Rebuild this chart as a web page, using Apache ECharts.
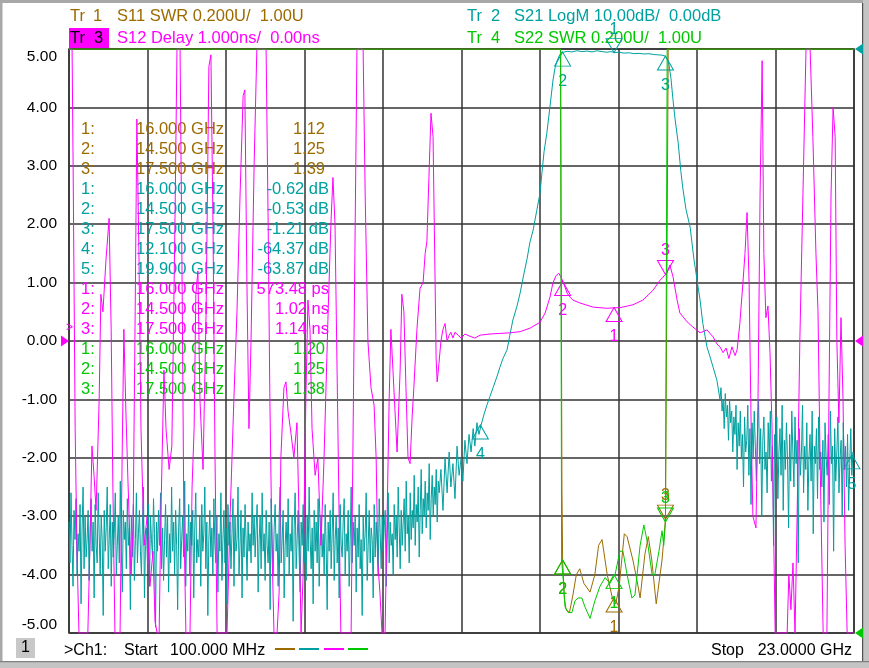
<!DOCTYPE html>
<html><head><meta charset="utf-8">
<script src="https://cdn.jsdelivr.net/npm/echarts@6/dist/echarts.min.js"></script>
<style>html,body{margin:0;padding:0;background:#fff}#c{width:869px;height:668px}</style>
</head><body><div id="c"></div><script>
const FONT = '"Liberation Sans", Arial, sans-serif';
const C_S11 = '#9c6b00', C_S21 = '#00a0a0', C_S12 = '#ff00ff', C_S22 = '#00c800';

// Sweep (GHz)
const sweepStartGHz = 0.1, sweepStopGHz = 23.0;

// Tr2 S21 LogM (dB): noise floor below the passband, sampled uniformly (two runs)
const s21LowAStartGHz = 0.1, s21LowAStopGHz = 5.5;
const s21LowANoiseDb = [
-81,-88,-76,-85,-92,-79,-84,-77,-90,-83,
-86,-78,-95,-82,-75,-89,-80,-87,-84,-79,
-91,-83,-77,-86,-81,-94,-78,-85,-88,-76,
-83,-90,-80,-84,-97,-79,-86,-82,-75,-89,
-84,-78,-92,-81,-87,-83,-76,-90,-85,-80,
-88,-74,-86,-93,-79,-84,-81,-89,-77,-85,
-82,-96,-80,-87,-78,-91,-84,-76,-88,-83,
-79,-86,-90,-81,-75,-94,-85,-82,-88,-78,
-92,-80,-84,-87,-77,-83,-99,-81,-86,-79,
-85,-76,-89,-82,-91,-84,-78,-87,-80,-93,
-83,-88,-75,-86,-81,-90,-79,-85,-96,-82,
-77,-89,-84,-80,-87,-74,-92,-83,-86,-78,
-90,-81,-85,-79,-94,-82,-76,-88,-84,-87,
-80,-92,-78,-86,-83,-75,-89,-81,-97,-84,
-79,-87,-82,-90,-77,-85,-88,-80,-93,-83,
-86,-76,-91,-84,-79,-88,-82,-95,-78,-85,
-81,-89,-83,-77,-92,-80,-86,-84,-75,-90,
-85,-79,-94,-82,-87,-78,-84,-91,-81,-86,
-83,-88,-76,-85,-80
];
const s21LowBStartGHz = 5.53, s21LowBStopGHz = 10.9;
const s21LowBNoiseDb = [
-87,-82,-78,-93,-84,-80,-89,-76,-86,-83,
-91,-79,-85,-88,-81,-96,-77,-84,-90,-82,
-78,-86,-83,-92,-80,-75,-88,-84,-79,-94,
-85,-81,-87,-77,-90,-83,-86,-80,-98,-82,
-76,-89,-84,-79,-87,-93,-81,-85,-78,-88,
-83,-91,-80,-86,-75,-84,-89,-82,-95,-79,
-86,-81,-88,-77,-92,-84,-80,-87,-83,-90,
-78,-85,-96,-81,-86,-79,-89,-83,-76,-91,
-84,-80,-88,-82,-94,-78,-85,-87,-81,-77,
-90,-83,-86,-79,-92,-84,-75,-88,-81,-85,
-80,-93,-82,-87,-78,-89,-84,-97,-80,-86,
-83,-76,-91,-85,-79,-88,-82,-84,-94,-78,
-87,-81,-85,-90,-77,-83,-89,-80,-86,-82,
-79,-92,-84,-76,-88,-81,-85,-83,-90,-78,
-84,-80,-87,-75,-82,-89,-79,-85,-81,-77,
-86,-74,-83,-80,-88,-76,-84,-79,-82,-73,
-85,-78,-81,-75,-87,-79,-72,-83,-77,-80,
-74,-82,-76,-79,-71,-84,-77,-73,-80,-75,
-78,-72,-81,-74,-76
];
// Tr2 S21: skirts and passband [GHz, dB]
const s21EdgeDb = [
[10.95,-72],[11.01,-79],[11.07,-70],[11.13,-76],[11.19,-69],[11.24,-75],[11.30,-71],[11.36,-77],
[11.42,-68],[11.48,-73],[11.54,-70],[11.59,-74],[11.65,-67],[11.71,-71],[11.77,-66],[11.83,-69],
[11.89,-65],[11.94,-68],[12.00,-64],[12.06,-66],[12.12,-64.4],[12.21,-62.5],[12.29,-61],[12.38,-59.5],
[12.47,-58],[12.59,-56],[12.67,-54.5],[12.76,-53],[12.88,-51.5],[12.96,-49],[13.05,-46.4],[13.17,-44],
[13.26,-41.8],[13.37,-38.5],[13.46,-36],[13.55,-33],[13.64,-31],[13.75,-27.5],[13.84,-24.7],[13.90,-21],
[13.96,-17.5],[14.04,-14.4],[14.13,-9.9],[14.22,-5.3],[14.28,-3.2],[14.34,-2.0],[14.42,-0.9],[14.48,-0.55],
[14.54,-0.53],[14.63,-0.4],[14.77,-0.5],[14.92,-0.3],[15.07,-0.45],[15.21,-0.35],[15.36,-0.5],[15.50,-0.3],
[15.65,-0.45],[15.79,-0.55],[15.91,-0.45],[16.03,-0.62],[16.14,-0.55],[16.29,-0.7],[16.44,-0.65],[16.58,-0.8],
[16.73,-0.75],[16.87,-0.85],[17.02,-0.8],[17.17,-0.95],[17.28,-1.0],[17.40,-1.05],[17.49,-1.21],[17.54,-1.6],
[17.60,-2.6],[17.66,-5],[17.72,-8.7],[17.78,-12],[17.87,-16],[17.95,-21],[18.01,-24],[18.10,-27.5],
[18.22,-30.5],[18.33,-36],[18.42,-39.5],[18.51,-43],[18.59,-47],[18.71,-51],[18.80,-52.7],[18.89,-54.5],
[19.00,-56.7],[19.09,-60]
];
// Tr2 S21: noise floor above the passband, sampled uniformly
const s21HighStartGHz = 19.12, s21HighStopGHz = 23.0;
const s21HighNoiseDb = [
-58,-62,-60,-65,-59,-63,-61,-67,-60,-64,
-62,-69,-63,-66,-61,-72,-64,-68,-62,-70,
-66,-75,-63,-69,-67,-61,-73,-65,-78,-64,
-70,-62,-68,-74,-66,-60,-71,-65,-80,-67,
-63,-72,-69,-76,-64,-70,-62,-74,-68,-85,
-66,-71,-63,-77,-69,-65,-73,-61,-79,-67,
-72,-64,-70,-82,-66,-74,-62,-69,-75,-63,
-71,-67,-88,-65,-73,-69,-61,-76,-68,-72,
-64,-79,-70,-66,-74,-62,-83,-68,-71,-65,
-77,-63,-72,-69,-75,-67,-81,-64,-70,-73,
-66,-78,-62,-71,-68,-86,-65,-74,-69,-63,
-76,-70,-67,-80,-64,-72,-68,-75,-66,-79,
-71,-65,-73,-69,-70
];

// Tr3 S12 group delay [GHz, ns] (screen-limited at +/-5 ns)
const s12DelayNs = [
[0.10,5.0],[0.19,5.0],[0.22,3.0],[0.28,-1.5],[0.33,-3.5],[0.39,-5.0],[0.65,-5.0],[0.71,-3.5],[0.77,-1.8],[0.83,-2.3],
[0.89,-2.9],[0.98,-1.0],[1.03,0.8],[1.09,0.5],[1.18,1.4],[1.27,2.1],[1.33,0.2],[1.38,-2.5],[1.44,-5.0],[1.59,-5.0],
[1.65,-2.0],[1.70,0.2],[1.76,-1.2],[1.82,-2.4],[1.91,-4.0],[1.97,-3.2],[2.03,0.5],[2.08,3.8],[2.14,1.5],[2.20,-1.5],
[2.29,-3.5],[2.38,-3.0],[2.46,-4.2],[2.55,-3.6],[2.61,-4.8],[2.67,-5.0],[2.73,-5.0],[2.78,-3.0],[2.87,-0.5],[2.93,-1.5],
[3.02,-2.2],[3.10,-1.8],[3.19,2.0],[3.25,5.0],[3.34,5.0],[3.40,1.0],[3.45,-3.0],[3.51,-5.0],[3.63,-5.0],[3.69,-2.5],
[3.75,-1.5],[3.80,0.8],[3.86,1.2],[3.92,-1.0],[4.01,-2.2],[4.10,0.5],[4.18,4.7],[4.24,4.9],[4.30,2.0],[4.36,-2.0],
[4.42,-5.0],[4.71,-5.0],[4.80,-3.0],[4.91,-1.0],[5.00,0.5],[5.09,2.5],[5.18,4.2],[5.23,4.3],[5.29,1.0],[5.35,-1.5],
[5.41,0.0],[5.50,3.0],[5.58,5.0],[5.85,5.0],[5.91,2.0],[5.96,-1.0],[6.02,-3.5],[6.08,-5.0],[6.17,-5.0],[6.23,-4.3],
[6.28,-2.0],[6.37,-0.8],[6.43,-0.7],[6.49,-1.2],[6.58,-1.6],[6.66,-2.0],[6.75,-1.4],[6.81,-3.0],[6.87,-5.0],[6.93,-4.0],
[7.01,-1.0],[7.07,0.7],[7.13,0.2],[7.19,-1.5],[7.28,-2.3],[7.36,-2.0],[7.45,-3.5],[7.54,-2.0],[7.66,0.5],[7.74,2.0],
[7.80,2.8],[7.86,2.0],[7.92,-0.5],[7.98,-3.0],[8.03,-5.0],[8.33,-5.0],[8.38,-2.0],[8.44,1.5],[8.50,5.0],[8.68,5.0],
[8.74,2.5],[8.82,0.0],[8.91,-0.8],[9.00,-1.1],[9.06,-2.0],[9.11,-3.8],[9.17,-4.3],[9.23,-5.0],[9.32,-5.0],[9.38,-3.0],
[9.44,-1.0],[9.49,0.2],[9.55,-0.5],[9.61,-1.2],[9.67,-1.9],[9.76,-0.5],[9.81,0.8],[9.87,0.5],[9.93,-0.8],[9.99,-2.0],
[10.05,-2.1],[10.11,-1.3],[10.16,-0.8],[10.25,0.2],[10.34,0.9],[10.43,1.0],[10.49,1.5],[10.54,1.7],[10.60,2.8],[10.66,3.9],
[10.72,3.5],[10.78,1.0],[10.81,-0.3],[10.84,-0.7],[10.89,-0.4],[10.95,0.0],[11.01,0.2],[11.07,0.3],[11.13,0.0],[11.19,0.1],
[11.24,0.15],[11.30,0.05],[11.36,0.15],[11.45,0.1],[11.54,0.05],[11.65,0.12],[11.80,0.08],[11.94,0.05],[12.09,0.1],[12.38,0.12],
[12.67,0.13],[12.96,0.14],[13.26,0.16],[13.55,0.22],[13.84,0.32],[13.99,0.48],[14.13,0.75],[14.22,1.0],[14.31,1.12],[14.39,1.16],
[14.48,1.06],[14.57,0.92],[14.63,0.82],[14.72,0.75],[14.80,0.7],[15.01,0.65],[15.39,0.58],[15.79,0.56],[16.06,0.57],[16.17,0.57],
[16.55,0.62],[16.84,0.7],[17.14,0.87],[17.34,1.04],[17.54,1.16],[17.63,1.3],[17.72,1.1],[17.84,0.7],[17.92,0.48],[18.13,0.33],
[18.30,0.24],[18.51,0.14],[18.71,0.19],[18.89,0.07],[19.00,-0.05],[19.09,-0.1],[19.18,-0.2],[19.27,-0.12],[19.35,-0.3],[19.44,-0.1],
[19.53,-0.25],[19.59,-0.15],[19.67,0.3],[19.76,1.0],[19.82,1.5],[19.88,2.2],[19.94,1.0],[20.00,-1.5],[20.05,-3.0],[20.14,-3.2],
[20.20,-1.0],[20.26,2.5],[20.32,4.8],[20.37,1.5],[20.43,0.4],[20.49,0.6],[20.55,-0.2],[20.61,-1.5],[20.70,-5.0],[21.05,-5.0],
[21.10,-4.0],[21.16,-4.6],[21.22,-3.8],[21.28,-5.0],[21.34,-3.0],[21.42,0.0],[21.51,2.5],[21.60,5.0],[21.72,5.0],[21.80,3.5],
[21.89,1.5],[21.95,0.5],[22.01,-2.0],[22.10,-5.0],[22.21,-5.0],[22.27,-1.0],[22.33,2.5],[22.39,4.0],[22.45,3.5],[22.50,0.0],
[22.56,-1.4],[22.62,0.4],[22.68,-1.0],[22.74,-3.5],[22.80,-5.0],[23.00,-5.0]
];

// Tr1 S11 SWR [GHz, U] (screen-limited at 3.0 U)
const s11Swr = [
[0.10,3.0],[14.44,3.0],[14.48,1.5],[14.50,1.25],[14.55,1.12],[14.60,1.08],[14.70,1.07],[14.80,1.13],[14.90,1.2],[15.00,1.22],
[15.12,1.17],[15.30,1.14],[15.44,1.2],[15.55,1.3],[15.65,1.32],[15.80,1.2],[15.95,1.12],[16.05,1.1],[16.15,1.16],[16.30,1.34],
[16.38,1.33],[16.55,1.25],[16.67,1.18],[16.76,1.12],[16.90,1.27],[17.00,1.33],[17.10,1.25],[17.23,1.1],[17.40,1.25],[17.50,1.39],
[17.58,3.0],[23.00,3.0]
];
// Tr4 S22 SWR [GHz, U]
const s22Swr = [
[0.10,3.0],[14.44,3.0],[14.47,1.25],[14.52,1.18],[14.57,1.09],[14.66,1.07],[14.77,1.07],[14.86,1.11],[14.95,1.12],[15.06,1.12],
[15.15,1.09],[15.30,1.05],[15.44,1.11],[15.59,1.16],[15.74,1.19],[15.88,1.17],[16.03,1.20],[16.17,1.28],[16.26,1.28],[16.38,1.2],
[16.52,1.12],[16.61,1.13],[16.76,1.3],[16.87,1.37],[16.99,1.3],[17.11,1.2],[17.19,1.2],[17.31,1.28],[17.40,1.35],[17.45,1.3],
[17.50,1.38],[17.55,3.0],[23.00,3.0]
];

// Markers
const markerFreqGHz = [16.0, 14.5, 17.5];
const s21MarkerFreqGHz = [16.0, 14.5, 17.5, 12.1, 19.9];
const s11MarkerSwr = [1.12, 1.25, 1.39];
const s21MarkerDb = [-0.62, -0.53, -1.21, -64.37, -63.87];
const s12MarkerNs = [0.57348, 1.02, 1.14];
const s22MarkerSwr = [1.20, 1.25, 1.38];
const s21Marker5Shown = [22.94, -69.5];

// Axis scales: [min, max] per trace format
const delayAxis = [-5, 5], dbAxis = [-100, 0], swrAxis = [1.0, 3.0];

function uniformRun(start, stop, vals) {
  const n = vals.length, step = (stop - start) / (n - 1);
  return vals.map((v, i) => [start + i * step, v]);
}
const s21Data = uniformRun(s21LowAStartGHz, s21LowAStopGHz, s21LowANoiseDb)
  .concat(uniformRun(s21LowBStartGHz, s21LowBStopGHz, s21LowBNoiseDb))
  .concat(s21EdgeDb)
  .concat(uniformRun(s21HighStartGHz, s21HighStopGHz, s21HighNoiseDb));

function mk(coord, n, color, down) {
  return {
    coord: coord, symbol: 'triangle', symbolSize: [16, 14],
    symbolRotate: down ? 180 : 0,
    symbolOffset: [0, down ? -7 : 7],
    itemStyle: { color: 'rgba(0,0,0,0)', borderColor: color, borderWidth: 1 },
    label: { show: true, formatter: String(n), position: down ? 'top' : 'bottom', distance: down ? 1 : 7,
             color: color, fontSize: 16, fontFamily: FONT }
  };
}
function refMark(coord, color, side) {
  return {
    coord: coord, symbol: 'triangle', symbolSize: [11, 8],
    symbolRotate: side === 'right' ? 90 : -90,
    symbolOffset: [side === 'right' ? 5 : -4, 0],
    itemStyle: { color: color, borderWidth: 0 }, label: { show: false }
  };
}

const s11Marks = markerFreqGHz.map((f, i) => mk([f, s11MarkerSwr[i]], i + 1, C_S11, i === 2));
const s22Marks = markerFreqGHz.map((f, i) => mk([f, s22MarkerSwr[i]], i + 1, C_S22, i === 2));
const s12Marks = markerFreqGHz.map((f, i) => mk([f, s12MarkerNs[i]], i + 1, C_S12, i === 2));
const s21Marks = s21MarkerFreqGHz.map((f, i) => mk(i === 4 ? s21Marker5Shown : [f, s21MarkerDb[i]], i + 1, C_S21, i === 0));

function lineSeries(name, data, color, yIdx, marks, z) {
  return {
    name: name, type: 'line', data: data, yAxisIndex: yIdx, showSymbol: false, symbol: 'none',
    lineStyle: { color: color, width: 1 }, itemStyle: { color: color }, z: z,
    animation: false, clip: true,
    markPoint: { data: marks, animation: false, silent: true }
  };
}

// Marker table text
const FT = '16.5px ' + FONT;
function fmtDelay(v) { return Math.abs(v) < 1 ? (v * 1000).toFixed(2) + ' ps' : v.toFixed(2) + ' ns'; }
const rows = [];
markerFreqGHz.forEach((f, i) => rows.push([i + 1, f, s11MarkerSwr[i].toFixed(2), C_S11, false]));
s21MarkerFreqGHz.forEach((f, i) => rows.push([i + 1, f, s21MarkerDb[i].toFixed(2) + ' dB', C_S21, true]));
markerFreqGHz.forEach((f, i) => rows.push([i + 1, f, fmtDelay(s12MarkerNs[i]), C_S12, true]));
markerFreqGHz.forEach((f, i) => rows.push([i + 1, f, s22MarkerSwr[i].toFixed(2), C_S22, false]));

const g = [];
function txt(x, y, s, fill, align, font, z) {
  g.push({ type: 'text', x: x, y: y, z: z || 1, silent: true,
    style: { text: s, fill: fill, font: font || FT, align: align || 'left', verticalAlign: 'middle' } });
}
rows.forEach((r, k) => {
  const y = 129 + 20 * k;
  txt(81, y, r[0] + ':', r[3]);
  txt(136, y, r[1].toFixed(3) + ' GHz', r[3]);
  txt(r[4] ? 329 : 325, y, r[2], r[3], 'right');
});
txt(66, 328, '>', C_S12, 'left', '12px ' + FONT);

// Window frame
g.push({ type: 'rect', shape: { x: 0, y: 0, width: 869, height: 3 }, style: { fill: '#a8a8a8' }, z: 0, silent: true });
g.push({ type: 'rect', shape: { x: 0, y: 0, width: 2.5, height: 668 }, style: { fill: '#a8a8a8' }, z: 0, silent: true });
g.push({ type: 'rect', shape: { x: 863, y: 0, width: 6, height: 668 }, style: { fill: '#c4c4c4' }, z: 0, silent: true });
g.push({ type: 'rect', shape: { x: 862, y: 3, width: 1.2, height: 659 }, style: { fill: '#505050' }, z: 0, silent: true });
g.push({ type: 'rect', shape: { x: 0, y: 662, width: 869, height: 6 }, style: { fill: '#c4c4c4' }, z: 0, silent: true });
g.push({ type: 'rect', shape: { x: 0, y: 661, width: 869, height: 1.2 }, style: { fill: '#808080' }, z: 0, silent: true });

// Header
const FH = '16.5px ' + FONT;
txt(70, 16, 'Tr', C_S11, 'left', FH); txt(93, 16, '1', C_S11, 'left', FH);
txt(117, 16, 'S11 SWR 0.200U/  1.00U', C_S11, 'left', FH);
g.push({ type: 'rect', shape: { x: 69, y: 28, width: 40, height: 20 }, style: { fill: C_S12 }, z: 0, silent: true });
txt(70, 38, 'Tr', '#000', 'left', FH); txt(94, 38, '3', '#000', 'left', FH);
txt(117, 38, 'S12 Delay 1.000ns/  0.00ns', C_S12, 'left', FH);
txt(467, 16, 'Tr', C_S21, 'left', FH); txt(491, 16, '2', C_S21, 'left', FH);
txt(514, 16, 'S21 LogM 10.00dB/  0.00dB', C_S21, 'left', FH);
txt(467, 38, 'Tr', C_S22, 'left', FH); txt(491, 38, '4', C_S22, 'left', FH);
txt(514, 38, 'S22 SWR 0.200U/  1.00U', C_S22, 'left', FH);

// Footer
const FF = '16px ' + FONT;
g.push({ type: 'rect', shape: { x: 16, y: 638, width: 19, height: 20 }, style: { fill: '#c8c8c8' }, z: 0, silent: true });
txt(25.5, 648, '1', '#000', 'center', FF);
txt(64, 651, '>Ch1:', '#000', 'left', FF);
txt(124, 651, 'Start', '#000', 'left', FF);
txt(170, 651, (sweepStartGHz * 1000).toFixed(3) + ' MHz', '#000', 'left', FF);
txt(711, 651, 'Stop', '#000', 'left', FF);
txt(852, 651, sweepStopGHz.toFixed(4) + ' GHz', '#000', 'right', FF);
[[275, C_S11], [299, C_S21], [324, C_S12], [348, C_S22]].forEach(p => {
  g.push({ type: 'rect', shape: { x: p[0], y: 648, width: 20, height: 2 }, style: { fill: p[1] }, z: 0, silent: true });
});

const gridLine = { show: true, lineStyle: { color: '#333', width: 1.5 } };
const chart = echarts.init(document.getElementById('c'), null, { renderer: 'canvas' });
chart.setOption({
  animation: false,
  backgroundColor: '#fff',
  grid: { left: 69, top: 49, right: 15, bottom: 35, show: true, borderColor: '#333', borderWidth: 1.5 },
  xAxis: { type: 'value', min: sweepStartGHz, max: sweepStopGHz, interval: (sweepStopGHz - sweepStartGHz) / 10,
    axisLabel: { show: false }, axisTick: { show: false }, axisLine: { show: false }, splitLine: gridLine },
  yAxis: [
    { type: 'value', min: delayAxis[0], max: delayAxis[1], interval: 1, position: 'left',
      axisLine: { show: false }, axisTick: { show: false }, splitLine: gridLine,
      axisLabel: { color: '#000', fontSize: 15.5, fontFamily: FONT, margin: 12,
        formatter: v => v.toFixed(2), verticalAlignMaxLabel: 'top', verticalAlignMinLabel: 'bottom' } },
    { type: 'value', min: dbAxis[0], max: dbAxis[1], show: false, splitLine: { show: false } },
    { type: 'value', min: swrAxis[0], max: swrAxis[1], show: false, splitLine: { show: false } }
  ],
  graphic: g,
  series: [
    lineSeries('S11', s11Swr, C_S11, 2, s11Marks, 3),
    lineSeries('S21', s21Data, C_S21, 1,
      s21Marks.concat([refMark([sweepStopGHz, dbAxis[1]], C_S21, 'right')]), 4),
    lineSeries('S12', s12DelayNs, C_S12, 0,
      s12Marks.concat([refMark([sweepStartGHz, 0], C_S12, 'left'), refMark([sweepStopGHz, 0], C_S12, 'right')]), 5),
    lineSeries('S22', s22Swr, C_S22, 2,
      s22Marks.concat([refMark([sweepStopGHz, swrAxis[0]], C_S22, 'right')]), 6)
  ]
});
</script></body></html>
